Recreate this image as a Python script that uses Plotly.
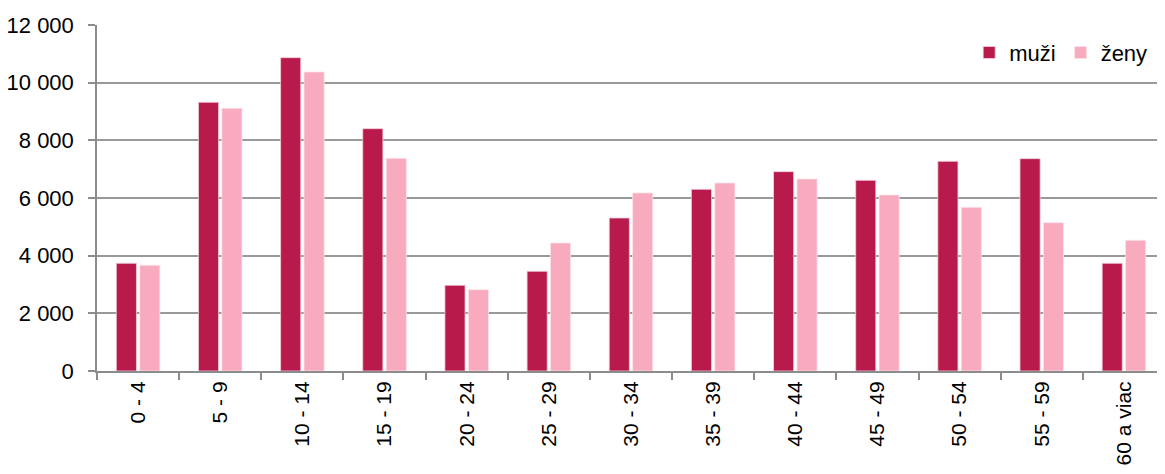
import plotly.graph_objects as go

categories = ["0 - 4", "5 - 9", "10 - 14", "15 - 19", "20 - 24", "25 - 29", "30 - 34",
              "35 - 39", "40 - 44", "45 - 49", "50 - 54", "55 - 59", "60 a viac"]
muzi = [3735, 9320, 10867, 8404, 2972, 3458, 5307, 6302, 6914, 6614, 7273, 7364, 3735]
zeny = [3666, 9112, 10371, 7377, 2820, 4440, 6174, 6521, 6660, 6105, 5678, 5144, 4533]
y_tickvals = [0, 2000, 4000, 6000, 8000, 10000, 12000]
y_ticktext = ["0", "2 000", "4 000", "6 000", "8 000", "10 000", "12 000"]

fig = go.Figure()
fig.add_trace(go.Bar(x=categories, y=muzi, name="muži",
                     marker=dict(color="#B71A4B", line=dict(color="#F3D0DA", width=0.8))))
fig.add_trace(go.Bar(x=categories, y=zeny, name="ženy",
                     marker=dict(color="#F8AABE", line=dict(color="#FCE3EA", width=0.8))))

# The page body has an 8px default margin, so the figure is sized/offset to fit the window.
fig.update_layout(
    width=1157, height=466,
    margin=dict(l=89, r=0, t=17, b=103),
    plot_bgcolor="white", paper_bgcolor="white",
    barmode="group", bargap=0.43, bargroupgap=0.14,
    font=dict(family="Liberation Sans, Arial, sans-serif", color="black"),
    legend=dict(orientation="h", x=0.988, xanchor="right", y=0.92, yanchor="middle",
                font=dict(family="Liberation Sans, Arial, sans-serif", size=22),
                bgcolor="rgba(0,0,0,0)", itemwidth=30, tracegroupgap=0),
)
fig.update_xaxes(
    type="category", tickangle=-90, tickfont=dict(size=21, family="Liberation Sans, Arial"),
    showline=True, linecolor="#8C8C8C", linewidth=2,
    ticks="outside", tickson="boundaries", ticklen=7, tickcolor="#8C8C8C", tickwidth=1.5,
    showgrid=False, automargin=False,
)
fig.update_yaxes(
    range=[0, 12000], tickvals=y_tickvals, ticktext=y_ticktext,
    tickfont=dict(size=22, family="Liberation Sans, Arial, sans-serif"),
    ticklabelstandoff=10,
    showgrid=True, gridcolor="#999999", gridwidth=1.5,
    showline=True, linecolor="#8C8C8C", linewidth=1.5,
    ticks="outside", ticklen=7, tickcolor="#8C8C8C", tickwidth=1.5,
    zeroline=False, automargin=False,
)

fig.write_html("out.html")
